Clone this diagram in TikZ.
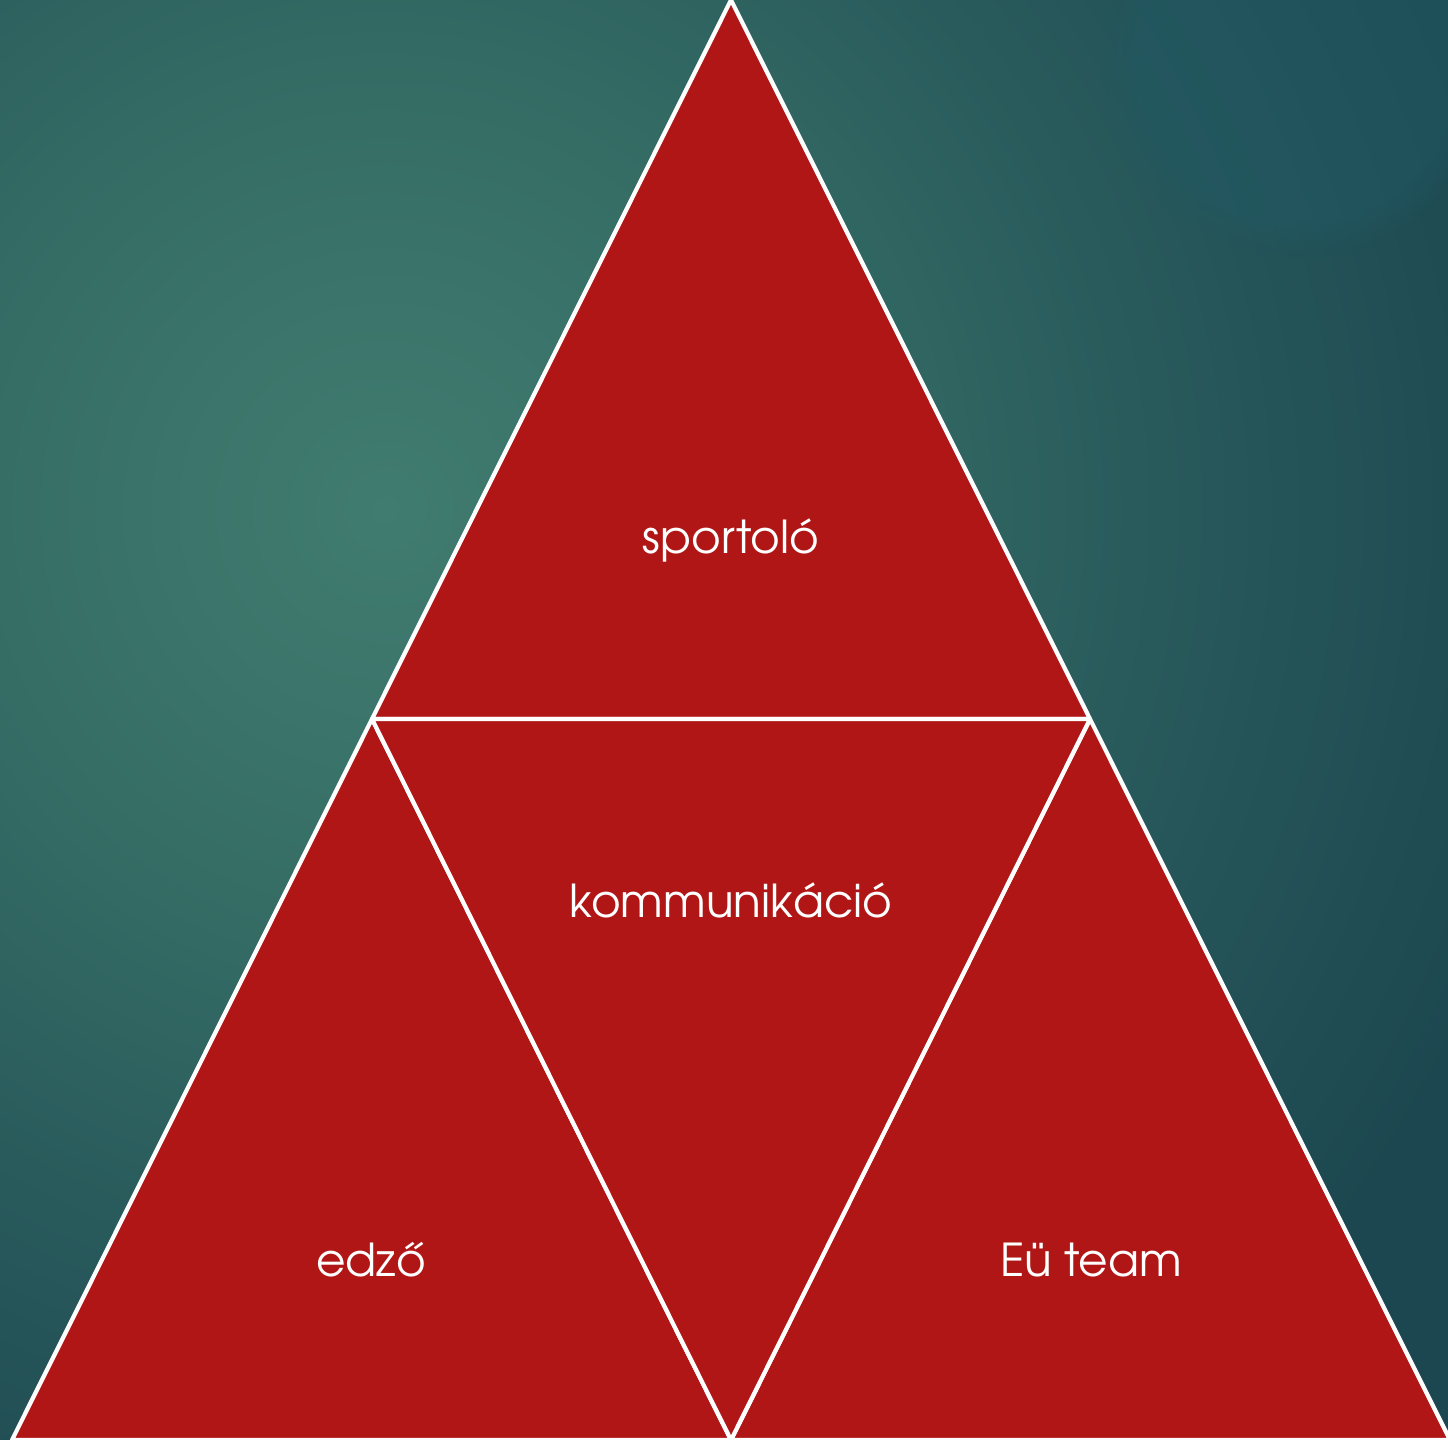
\documentclass[tikz,border=0pt]{standalone}
\usepackage{fontspec}
\setmainfont{TeX Gyre Adventor}
\usetikzlibrary{fadings}

\definecolor{tred}{HTML}{B01615}
\definecolor{bgA}{HTML}{417C70}
\definecolor{bgB}{HTML}{356D65}
\definecolor{bgC}{HTML}{28595B}
\definecolor{bgD}{HTML}{1C4750}
\definecolor{glowblue}{HTML}{215A66}

% backdrop: soft teal glow, darker towards the corners
\pgfdeclareradialshading{backdrop}{\pgfpoint{0bp}{0bp}}{%
  color(0bp)=(bgA); color(4.5bp)=(bgB); color(8.5bp)=(bgC);
  color(13bp)=(bgD); color(50bp)=(bgD)}

\begin{document}
\begin{tikzpicture}[x=0.01cm, y=-0.01cm, line join=round,
  font=\fontsize{12.9}{15}\selectfont,
  piece/.style={fill=tred, draw=white, line width=1.2pt},
  lbl/.style={text=white, inner sep=0pt}]
\useasboundingbox (0,0) rectangle (1448,1440);
\begin{scope}
\clip (0,0) rectangle (1448,1440);
\shade[shading=backdrop] (385,510) circle (2300);
\fill[glowblue, path fading=circle with fuzzy edge 20 percent, fill opacity=0.45] (1300,60) circle (200);
\end{scope}

% corners of the pyramid
\coordinate (top) at (731,0);
\coordinate (ml) at (372,719);
\coordinate (mr) at (1090,719);
\coordinate (bl) at (12,1440);
\coordinate (bm) at (731,1440);
\coordinate (br) at (1450,1440);

\draw[piece] (top) -- (ml) -- (mr) -- cycle;
\draw[piece] (ml) -- (bl) -- (bm) -- cycle;
\draw[piece] (mr) -- (bm) -- (br) -- cycle;
\draw[piece] (ml) -- (mr) -- (bm) -- cycle;

\node[lbl] (sport) at (731,540) {sportoló};
\node[lbl] (komm) at (731,900) {kommunikáció};
\node[lbl] (edzo) at (371,1260) {edző};
\node[lbl] (team) at (1091,1260) {Eü team};
\end{tikzpicture}
\end{document}
